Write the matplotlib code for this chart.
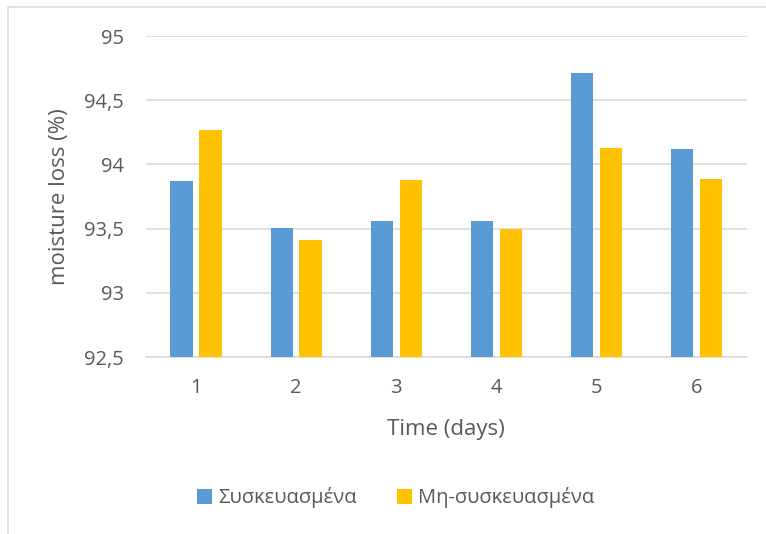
import numpy as np
import matplotlib.pyplot as plt
from matplotlib.patches import Rectangle

plt.rcParams['font.family'] = ['Open Sans', 'DejaVu Sans']

days = ['1', '2', '3', '4', '5', '6']
packed = [93.87, 93.505, 93.56, 93.56, 94.71, 94.123]
unpacked = [94.27, 93.41, 93.88, 93.50, 94.125, 93.887]
yticks = [92.5, 93, 93.5, 94, 94.5, 95]
ytick_labels = ['92,5', '93', '93,5', '94', '94,5', '95']

fig = plt.figure(figsize=(7.66, 5.34), dpi=100)
ax = fig.add_axes([146/766, 1 - 357/534, 600.7/766, 321/534])

x = np.arange(len(days))
w = 0.223
ax.bar(x - 0.144, packed, w, color='#5B9BD5', label='Συσκευασμένα', zorder=3)
ax.bar(x + 0.144, unpacked, w, color='#FFC000', label='Μη-συσκευασμένα', zorder=3)

ax.set_xlim(-0.5, 5.5)
ax.set_ylim(92.5, 95)
ax.set_yticks(yticks)
ax.set_yticklabels(ytick_labels)
ax.set_xticks(x)
ax.set_xticklabels(days)
ax.grid(axis='y', color='#D9D9D9', linewidth=1.1, zorder=0)
for s in ['top', 'right', 'left']:
    ax.spines[s].set_visible(False)
ax.spines['bottom'].set_color('#D9D9D9')
ax.spines['bottom'].set_linewidth(1.1)
ax.tick_params(axis='y', length=0, pad=16, labelsize=14.5, labelcolor='#595959')
ax.tick_params(axis='x', length=0, pad=15, labelsize=14.5, labelcolor='#595959')

ax.set_ylabel('moisture loss (%)', fontsize=16, color='#595959', labelpad=10)
ax.set_xlabel('Time (days)', fontsize=16, color='#595959', labelpad=15)

fig.legend(loc='center', bbox_to_anchor=(395.5/766, 1 - 498/534), ncol=2, frameon=False,
           fontsize=14.5, labelcolor='#595959', handlelength=0.75, handleheight=0.75,
           handletextpad=0.3, columnspacing=2.0)

fig.patches.append(Rectangle((8/766, -0.1), 1.2, 1 - 7/534 + 0.1, transform=fig.transFigure,
                             fill=False, edgecolor='#D9D9D9', linewidth=1.1))

fig.savefig('out.png', dpi=100)
